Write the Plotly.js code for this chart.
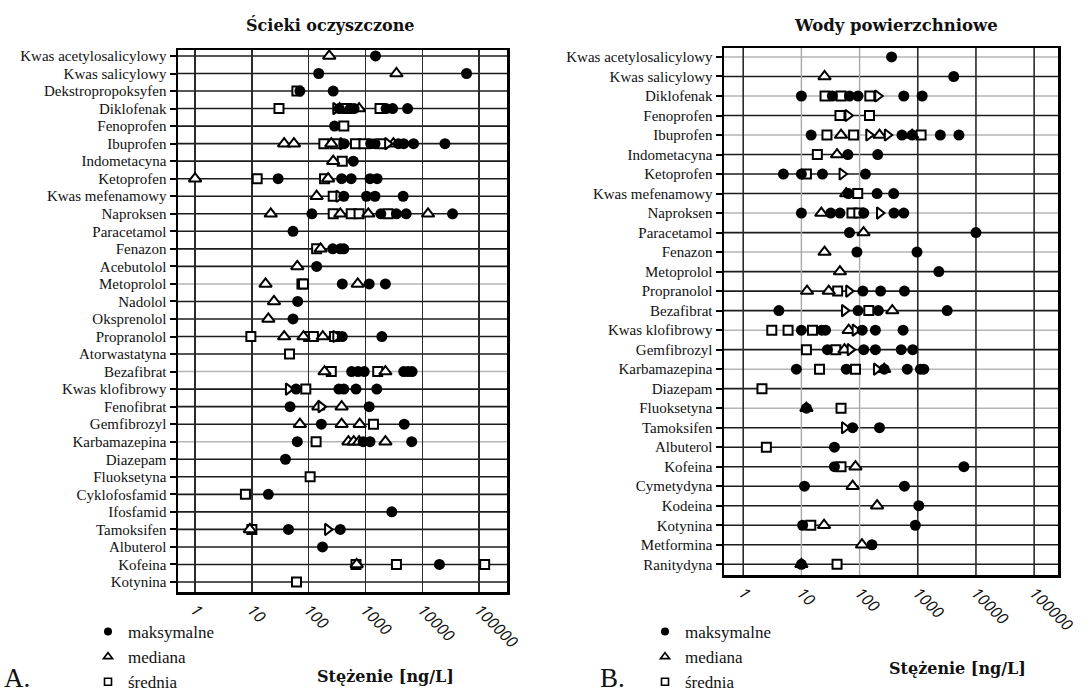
<!DOCTYPE html>
<html>
<head>
<meta charset="utf-8">
<script src="https://cdn.plot.ly/plotly-3.0.1.min.js"></script>
<style>
  html, body { margin: 0; padding: 0; background: #fff; }
  #chart { width: 1090px; height: 695px; }
</style>
</head>
<body>
<div id="chart"></div>
<script>
// ---------- A. Ścieki oczyszczone ----------
const drugsA = ['Kwas acetylosalicylowy', 'Kwas salicylowy', 'Dekstropropoksyfen', 'Diklofenak',
  'Fenoprofen', 'Ibuprofen', 'Indometacyna', 'Ketoprofen', 'Kwas mefenamowy', 'Naproksen',
  'Paracetamol', 'Fenazon', 'Acebutolol', 'Metoprolol', 'Nadolol', 'Oksprenolol', 'Propranolol',
  'Atorwastatyna', 'Bezafibrat', 'Kwas klofibrowy', 'Fenofibrat', 'Gemfibrozyl', 'Karbamazepina',
  'Diazepam', 'Fluoksetyna', 'Cyklofosfamid', 'Ifosfamid', 'Tamoksifen', 'Albuterol', 'Kofeina', 'Kotynina'];

// concentrations in ng/L, one list per drug (same order as drugsA)
const maxA = [[1500], [150, 60000], [70, 270], [345, 540, 630, 2300, 3000, 5500], [285],
  [420, 1230, 1470, 3800, 4700, 7000, 25000], [610], [29, 380, 560, 1200, 1600],
  [415, 1040, 1470, 4600], [114, 1860, 3500, 5200, 34000], [53], [265, 360, 415], [138],
  [390, 1160, 2240], [64], [53], [390, 1940], [], [570, 740, 950, 4700, 5600, 6600],
  [60, 340, 415, 680, 1580], [47, 1160], [167, 4800], [63, 910, 1200, 6500], [39], [],
  [19.5], [2900], [44, 360], [175], [20000], []];
const medianA = [[230], [3500], [], [350, 770], [], [37, 55, 250, 3100], [270], [1, 220],
  [138], [21.5, 360, 1120, 12600], [], [162], [63], [17.4, 730], [24.5], [19.5],
  [37, 81, 177], [], [190, 2240], [], [148, 380], [70, 380, 790], [500, 620, 770, 2240],
  [], [], [], [], [9.2], [], [700], []];
const meanA = [[], [], [62], [30, 460, 1800], [415], [185, 290, 665, 940, 1940], [390],
  [12.4, 190], [270], [270, 560, 770, 2500], [], [138], [], [76, 81], [], [],
  [9.6, 100, 121, 285], [46], [250, 1640], [89], [], [1380], [135], [], [106], [7.7], [],
  [10], [], [680, 3500, 125000], [61]];
const otherA = [[], [], [], [300], [], [400, 2450], [], [], [340], [], [], [], [], [], [], [],
  [300], [], [], [44], [165], [], [], [], [], [], [], [215], [], [], []];

// ---------- B. Wody powierzchniowe ----------
const drugsB = ['Kwas acetylosalicylowy', 'Kwas salicylowy', 'Diklofenak', 'Fenoprofen', 'Ibuprofen',
  'Indometacyna', 'Ketoprofen', 'Kwas mefenamowy', 'Naproksen', 'Paracetamol', 'Fenazon',
  'Metoprolol', 'Propranolol', 'Bezafibrat', 'Kwas klofibrowy', 'Gemfibrozyl', 'Karbamazepina',
  'Diazepam', 'Fluoksetyna', 'Tamoksifen', 'Albuterol', 'Kofeina', 'Cymetydyna', 'Kodeina',
  'Kotynina', 'Metformina', 'Ranitydyna'];

const maxB = [[355], [4150], [10, 34, 67, 94, 575, 1190], [], [14.7, 535, 800, 2440, 5100],
  [63, 205], [4.9, 10, 23, 126], [64, 200, 385], [10, 32, 46, 118, 390, 575], [67, 10000],
  [90, 970], [2300], [114, 230, 590], [4.1, 94, 210, 3200], [10, 22.4, 26, 111, 187, 560],
  [28, 118, 187, 520, 820], [8.2, 59, 265, 660, 1110, 1270], [], [12.2], [76, 220], [37],
  [37, 6200], [11.3, 590], [1040], [10.5, 910], [163], [10]];
const medianB = [[], [25], [], [], [48, 220, 800], [41], [], [59], [22], [117], [25], [46],
  [12.5, 29.5], [365], [65], [55], [265], [], [12.2], [], [], [85], [76], [200], [24.5],
  [110], [10]];
const meanB = [[], [], [25.5, 48, 150], [46, 148], [27.5, 79, 1140], [18.8], [12.2], [93],
  [74, 97], [], [], [], [42], [144], [3.1, 5.9, 15.5], [12.2, 39], [20.5, 85], [2.1], [48],
  [], [2.5], [48], [], [], [14.5], [], [41]];
const otherB = [[], [], [205], [63], [144, 300], [], [50], [], [220], [], [], [], [65], [55],
  [84], [69], [195], [], [], [55], [], [], [], [], [], [], []];

const legendNames = { max: 'maksymalne', median: 'mediana', mean: 'średnia' };
const tickVals = [1, 10, 100, 1000, 10000, 100000];
const tickText = ['1', '10', '100', '1000', '10000', '100000'];

// rows whose guide line is drawn in a lighter grey
const lightRowsA = ['Metoprolol', 'Bezafibrat', 'Karbamazepina'];
const lightRowsB = ['Kwas acetylosalicylowy', 'Diklofenak', 'Ibuprofen', 'Naproksen', 'Fenazon',
  'Kwas klofibrowy', 'Karbamazepina', 'Fluoksetyna'];
// decade lines drawn lighter in panel B
const lightDecadesB = [10, 100];

function points(drugs, series) {
  const x = [], y = [];
  series.forEach((vals, i) => vals.forEach(v => { x.push(v); y.push(drugs[i]); }));
  return { x, y };
}

const styles = {
  mean:   { symbol: 'square', size: 9, color: '#fff', line: { color: '#000', width: 2 } },
  median: { symbol: 'triangle-up', size: 11, color: '#fff', line: { color: '#000', width: 2 } },
  other:  { symbol: 'triangle-right', size: 10, color: '#fff', line: { color: '#000', width: 2 } },
  max:    { symbol: 'circle', size: 11, color: '#000', line: { color: '#000', width: 0 } }
};
// smaller symbols for the key
const keyStyles = {
  max:    { symbol: 'circle', size: 8, color: '#000', line: { color: '#000', width: 0 } },
  median: { symbol: 'triangle-up', size: 8, color: '#fff', line: { color: '#000', width: 1.6 } },
  mean:   { symbol: 'square', size: 7, color: '#fff', line: { color: '#000', width: 1.6 } }
};

function panelTraces(drugs, sets, xa, ya, legendId) {
  const order = ['mean', 'median', 'other', 'max'];
  const data = order.map(key => {
    const p = points(drugs, sets[key]);
    return {
      type: 'scatter', mode: 'markers', x: p.x, y: p.y, xaxis: xa, yaxis: ya,
      name: legendNames[key] || 'inne', showlegend: false,
      marker: styles[key], hoverinfo: 'x+y'
    };
  });
  // key entries (no points of their own)
  const keys = ['max', 'median', 'mean'].map((key, i) => ({
    type: 'scatter', mode: 'markers', x: [null], y: [null], xaxis: xa, yaxis: ya,
    name: legendNames[key], legend: legendId, legendrank: i + 1, showlegend: true,
    marker: keyStyles[key], hoverinfo: 'skip'
  }));
  return data.concat(keys);
}

const traces = [
  ...panelTraces(drugsA, { max: maxA, median: medianA, mean: meanA, other: otherA }, 'x', 'y', 'legend'),
  ...panelTraces(drugsB, { max: maxB, median: medianB, mean: meanB, other: otherB }, 'x2', 'y2', 'legend2')
];

function rowLines(drugs, light, xref, yref) {
  return drugs.map(d => ({
    type: 'line', layer: 'below', xref: xref + ' domain', yref: yref,
    x0: 0, x1: 1, y0: d, y1: d,
    line: light.includes(d) ? { color: '#b5b5b5', width: 1.5 } : { color: '#1c1c1c', width: 1.6 }
  }));
}
function decadeLines(light, xref, yref) {
  return tickVals.map(v => ({
    type: 'line', layer: 'below', xref: xref, yref: yref + ' domain',
    x0: v, x1: v, y0: 0, y1: 1,
    line: light.includes(v) ? { color: '#a8a8a8', width: 1.4 } : { color: '#2a2a2a', width: 1.6 }
  }));
}

const H = 695, W = 1090;
const serif = 'Liberation Serif, Times New Roman, serif';
const boldSerif = 'DejaVu Serif, serif';

function xAxis(domain, anchor, grid) {
  return {
    type: 'log', domain: domain, anchor: anchor,
    tickvals: tickVals, ticktext: tickText, tickangle: 45, ticks: '',
    tickfont: { family: 'Open Sans, sans-serif', size: 16, color: '#111', style: 'italic' },
    showgrid: grid, gridcolor: '#2a2a2a', gridwidth: 1.6, zeroline: false,
    showline: true, mirror: true, linecolor: '#000', linewidth: 2.5, automargin: false
  };
}
function yAxis(domain, anchor, drugs, top, bottom) {
  return {
    type: 'category', domain: domain, anchor: anchor,
    categoryorder: 'array', categoryarray: drugs,
    range: [drugs.length - 1 + bottom, -top],
    tickvals: drugs, ticks: 'outside', ticklen: 6, tickwidth: 2, tickcolor: '#000',
    tickfont: { family: serif, size: 15, color: '#111' },
    showgrid: false, zeroline: false,
    showline: true, mirror: true, linecolor: '#000', linewidth: 2.5, automargin: false
  };
}

function label(text, x, y, size, family, yanchor) {
  return { text: text, xref: 'paper', yref: 'paper', x: x / W, y: 1 - y / H,
    xanchor: 'center', yanchor: yanchor || 'middle', showarrow: false,
    font: { family: family, size: size, color: '#111' } };
}
function key(x, y) {
  return {
    x: x / W, y: 1 - y / H, xanchor: 'left', yanchor: 'top',
    font: { family: serif, size: 17, color: '#111' }, bgcolor: 'rgba(0,0,0,0)'
  };
}

const layout = {
  width: W, height: H,
  margin: { l: 0, r: 0, t: 0, b: 0, autoexpand: false },
  paper_bgcolor: '#fff', plot_bgcolor: '#fff',
  font: { family: serif, color: '#111' },
  xaxis: Object.assign(xAxis([178 / W, 507 / W], 'y', true), { range: [-0.3, 5.49] }),
  yaxis: yAxis([1 - 592 / H, 1 - 50 / H], 'x', drugsA, 0.34, 0.57),
  xaxis2: Object.assign(xAxis([724 / W, 1058 / W], 'y2', false), { range: [-0.33, 5.41] }),
  yaxis2: yAxis([1 - 575 / H, 1 - 48 / H], 'x2', drugsB, 0.46, 0.55),
  shapes: [
    ...rowLines(drugsA, lightRowsA, 'x', 'y'),
    ...rowLines(drugsB, lightRowsB, 'x2', 'y2'),
    ...decadeLines(lightDecadesB, 'x2', 'y2')
  ],
  legend: key(88, 614),
  legend2: key(645, 614),
  annotations: [
    label('<b>Ścieki oczyszczone</b>', 330, 25, 16, boldSerif),
    label('<b>Wody powierzchniowe</b>', 896, 25, 16.5, boldSerif),
    label('<b>Stężenie [ng/L]</b>', 385, 676, 16, boldSerif),
    label('<b>Stężenie [ng/L]</b>', 957, 668, 16, boldSerif),
    label('A.', 17, 695, 27, serif, 'bottom'),
    label('B.', 612, 695, 27, serif, 'bottom')
  ]
};

Plotly.newPlot('chart', traces, layout, { staticPlot: true, displayModeBar: false });
</script>
</body>
</html>
